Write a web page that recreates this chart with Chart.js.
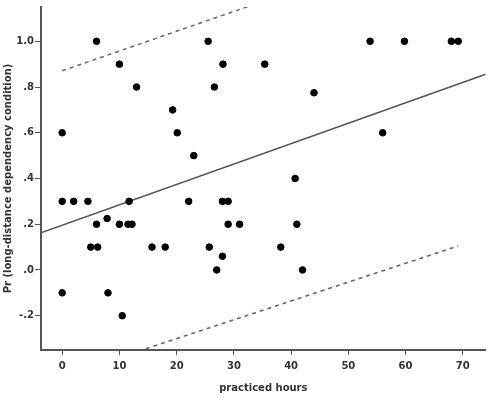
<!DOCTYPE html>
<html>
<head>
<meta charset="utf-8">
<script src="https://cdn.jsdelivr.net/npm/chart.js@4/dist/chart.umd.min.js"></script>
<style>
  html, body { margin: 0; padding: 0; background: #fff; }
  #wrap { width: 490px; height: 398px; }
</style>
</head>
<body>
<div id="wrap"><canvas id="chart"></canvas></div>
<script>
// practiced hours (x) and Pr score (y) for each participant
const hours = [0, 6, 10, 13, 19.3, 20.1, 23, 25.5, 26.6, 28.1,
  35.4, 53.8, 59.8, 68, 69.2, 44, 56, 40.7,
  0, 2, 4.5, 11.7, 22.1, 28, 29,
  6, 7.85, 10, 11.5, 12.2, 29, 31, 41,
  5, 6.2, 15.7, 18, 25.7, 38.2, 28,
  27, 42, 0, 8, 10.5];
const prScores = [0.6, 1.0, 0.9, 0.8, 0.7, 0.6, 0.5, 1.0, 0.8, 0.9,
  0.9, 1.0, 1.0, 1.0, 1.0, 0.775, 0.6, 0.4,
  0.3, 0.3, 0.3, 0.3, 0.3, 0.3, 0.3,
  0.2, 0.225, 0.2, 0.2, 0.2, 0.2, 0.2, 0.2,
  0.1, 0.1, 0.1, 0.1, 0.1, 0.1, 0.06,
  0.0, 0.0, -0.1, -0.1, -0.2];

// fit line and prediction bounds (end points)
const fitX = [-3.7, 74];
const fitY = [0.163, 0.856];
const boundX = [0, 69.2];
const upperY = [0.871, 1.47];
const lowerY = [-0.465, 0.105];

const xTicks = [0, 10, 20, 30, 40, 50, 60, 70];
const yTicks = [-0.2, 0, 0.2, 0.4, 0.6, 0.8, 1.0];

const toPts = (xs, ys) => xs.map((x, i) => ({ x: x, y: ys[i] }));
const fmtY = v => v.toFixed(1).replace(/^(-?)0\./, '$1.');

const axisColor = '#555';
const textColor = '#333';
const font = { family: 'DejaVu Sans', size: 10, weight: 'bold' };

new Chart(document.getElementById('chart'), {
  type: 'scatter',
  data: {
    datasets: [
      { data: toPts(hours, prScores), backgroundColor: '#000', borderColor: '#000', pointRadius: 3.3, pointHoverRadius: 3.3, order: 0 },
      { data: toPts(fitX, fitY), showLine: true, pointRadius: 0, borderColor: '#555', borderWidth: 1.5, order: 1 },
      { data: toPts(boundX, upperY), showLine: true, pointRadius: 0, borderColor: '#666', borderWidth: 1.5, borderDash: [4, 4], order: 1 },
      { data: toPts(boundX, lowerY), showLine: true, pointRadius: 0, borderColor: '#666', borderWidth: 1.5, borderDash: [4, 4], order: 1 }
    ]
  },
  options: {
    responsive: true,
    maintainAspectRatio: false,
    animation: false,
    layout: { padding: { top: 3, right: 4, left: 0, bottom: 0 } },
    plugins: { legend: { display: false }, tooltip: { enabled: false } },
    scales: {
      x: {
        min: -3.7, max: 74,
        afterBuildTicks: s => { s.ticks = xTicks.map(v => ({ value: v })); },
        afterFit: s => { s.height = 48; },
        grid: { drawOnChartArea: false, tickLength: 5, color: axisColor },
        border: { color: axisColor, width: 2 },
        ticks: { color: textColor, font: font, padding: 5, maxRotation: 0 },
        title: { display: true, text: 'practiced hours', color: textColor, font: font, padding: { top: 0, bottom: 4 } }
      },
      y: {
        min: -0.35, max: 1.15,
        afterBuildTicks: s => { s.ticks = yTicks.map(v => ({ value: v })); },
        afterFit: s => { s.width = 41; },
        grid: { drawOnChartArea: false, tickLength: 6, color: axisColor },
        border: { color: axisColor, width: 2 },
        ticks: { color: textColor, font: font, padding: 1, callback: v => fmtY(v) },
        title: { display: true, text: 'Pr (long-distance dependency condition)', color: textColor, font: font, padding: { top: 2, bottom: 0 } }
      }
    }
  }
});
</script>
</body>
</html>
